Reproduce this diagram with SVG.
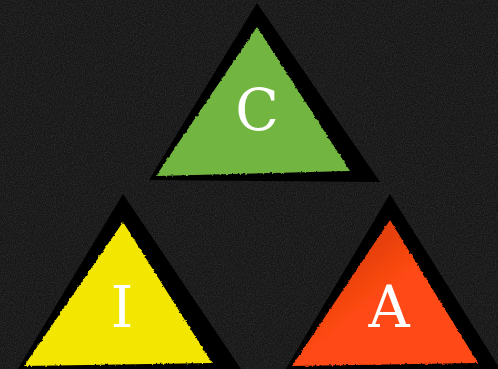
<svg xmlns="http://www.w3.org/2000/svg" width="498" height="369" viewBox="0 0 498 369">
  <style>
    .shadow { fill: #000000; }
    .letter { font-family: "DejaVu Serif", "Liberation Serif", serif; font-size: 57px; fill: #ffffff; text-anchor: middle; }
    .tri { filter: url(#rough); }
  </style>
  <defs>
    <filter id="noise" x="0" y="0" width="100%" height="100%" color-interpolation-filters="sRGB">
      <feTurbulence type="fractalNoise" baseFrequency="0.9" numOctaves="2" seed="3" result="n"/>
      <feColorMatrix in="n" type="matrix" values="0 0 0 0 1  0 0 0 0 1  0 0 0 0 1  0.18 0 0 0 -0.06" result="w"/>
      <feComposite in="w" in2="SourceGraphic" operator="atop"/>
    </filter>
    <filter id="rough" x="-10%" y="-10%" width="120%" height="120%">
      <feTurbulence type="fractalNoise" baseFrequency="0.35" numOctaves="2" seed="7" result="t"/>
      <feDisplacementMap in="SourceGraphic" in2="t" scale="3" xChannelSelector="R" yChannelSelector="G"/>
    </filter>
    <linearGradient id="orangeGrad" x1="0" y1="0" x2="1" y2="1">
      <stop offset="0" stop-color="#ff4a12"/>
      <stop offset="0.3" stop-color="#e5400f"/>
      <stop offset="0.5" stop-color="#ff4a12"/>
      <stop offset="1" stop-color="#ff4a12"/>
    </linearGradient>
  </defs>
  <rect width="498" height="369" fill="#161616" filter="url(#noise)"/>
  <g id="connectors"/>
  <g id="node-C">
    <polygon class="shadow" points="257,3 149,180 380,182"/>
    <polygon class="tri" points="257,27 156,176 350,171" fill="#72b53f"/>
    <text class="letter" x="257" y="130">C</text>
  </g>
  <g id="node-I">
    <polygon class="shadow" points="123,194 16,372 243,372"/>
    <polygon class="tri" points="123,222 24,366 212,363" fill="#f3e600"/>
    <text class="letter" x="122" y="327">I</text>
  </g>
  <g id="node-A">
    <polygon class="shadow" points="390,194 284,372 502,372"/>
    <polygon class="tri" points="390,220 292,366 478,363" fill="url(#orangeGrad)"/>
    <text class="letter" x="389" y="327">A</text>
  </g>
</svg>
